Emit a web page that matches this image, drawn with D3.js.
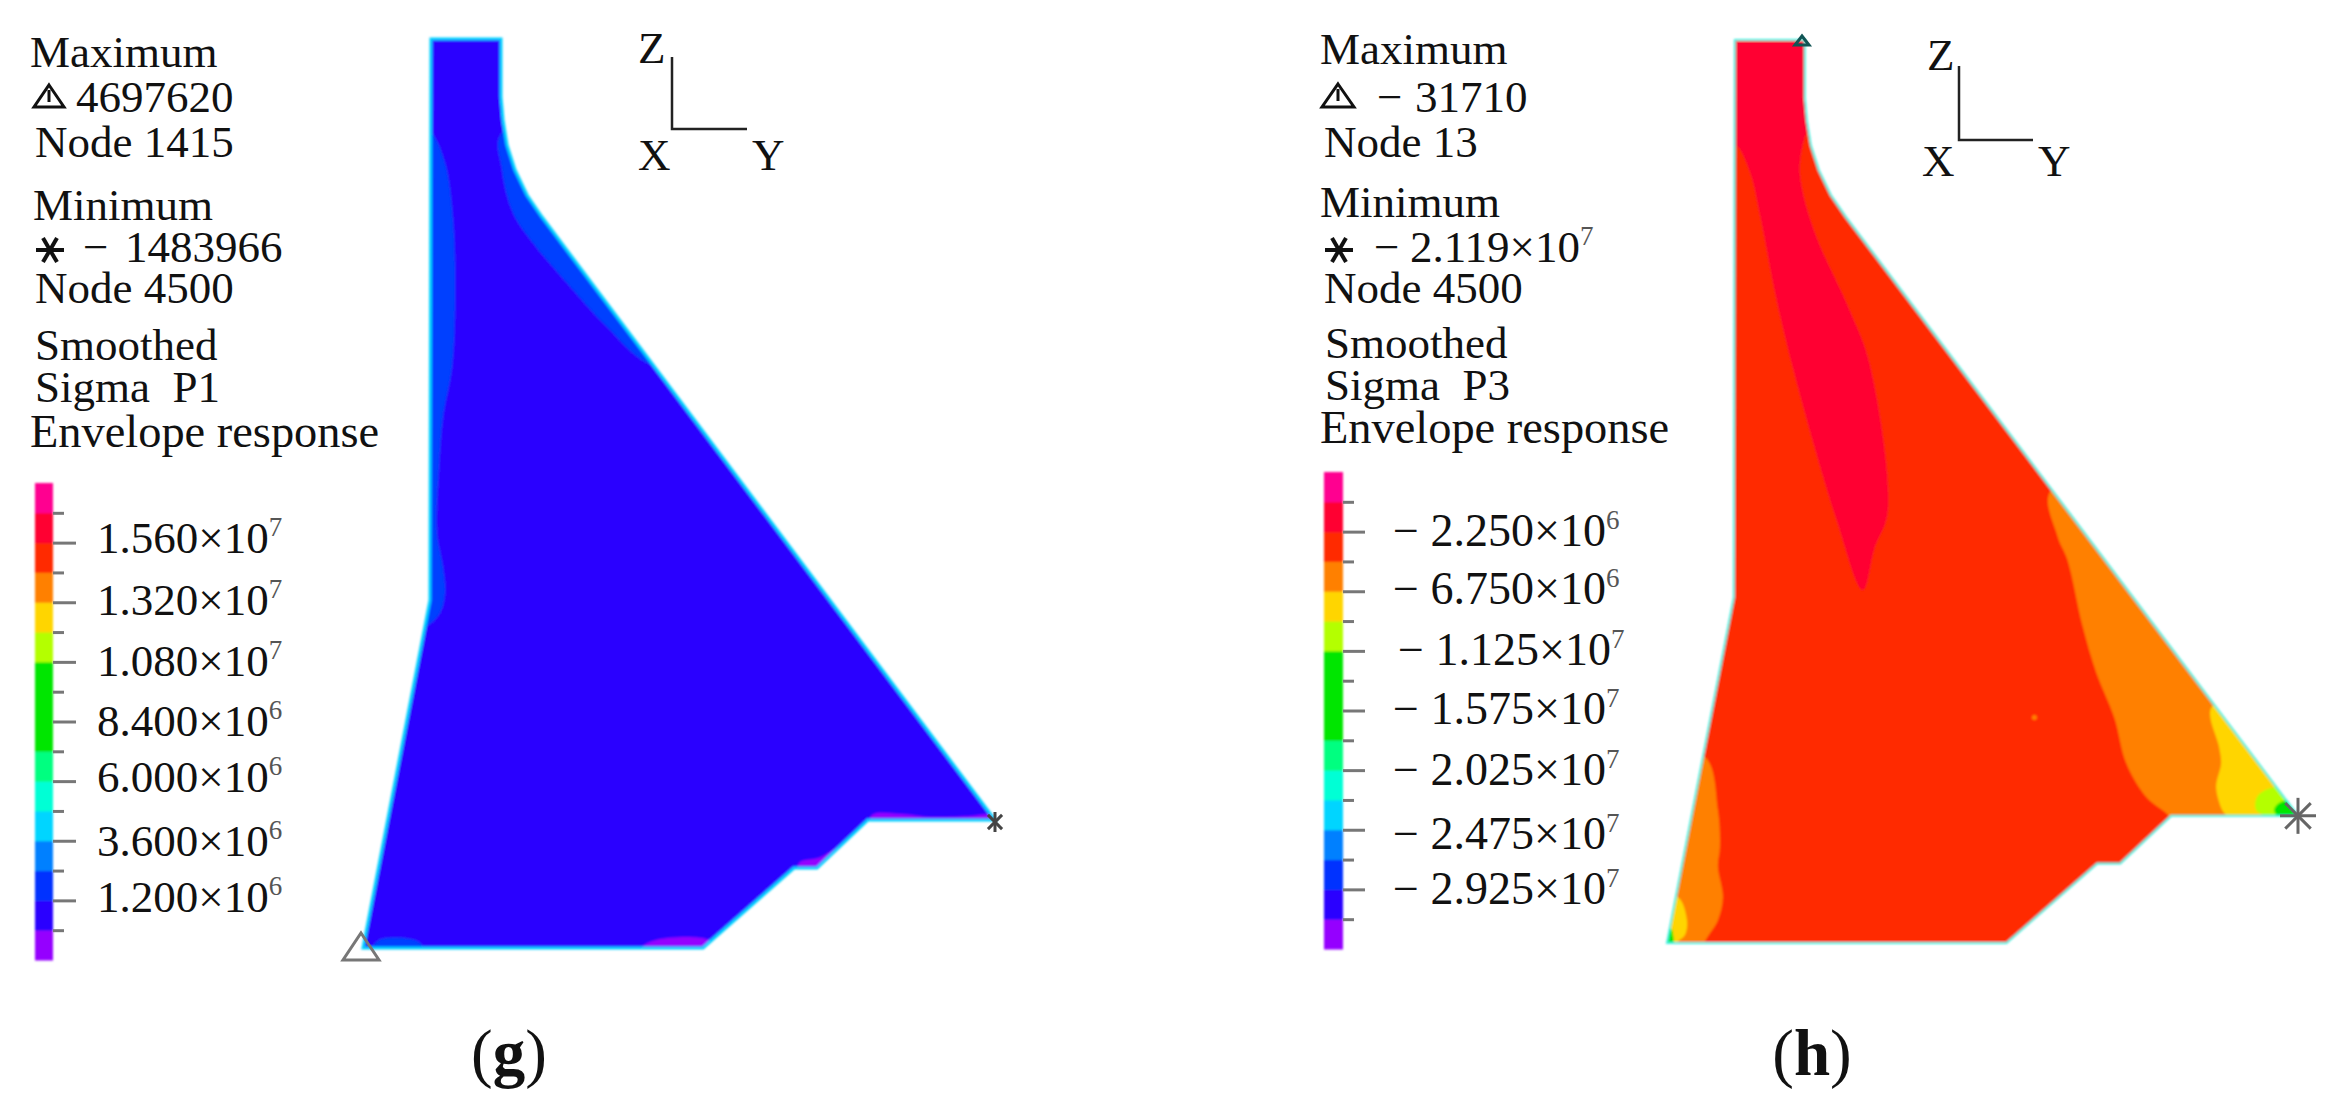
<!DOCTYPE html>
<html>
<head>
<meta charset="utf-8">
<title>Dam stress envelope</title>
<script src="https://cdnjs.cloudflare.com/ajax/libs/d3/7.8.5/d3.min.js"></script>
<style>
  body { margin: 0; background: #fff; }
  text { font-family: "Liberation Serif", serif; fill: #111; }
</style>
</head>
<body>
<div id="chart"></div>
<script>
const width = 2352;
const height = 1113;

// dam section, [y, z] in model units, z measured up from the foundation
const damOutline = [[0, 909], [70, 909], [70, 851], [72, 828], [76, 803], [84, 778], [96, 753], [111, 731],
  [564, 128], [437, 128], [386, 80], [363, 80], [272, 0], [-68, 0], [-1, 348]];

// contour bands of panel (g), Sigma P1
const p1Base = '#2b00ff';
const p1Upstream = [[0, 815], [14, 785], [22, 728], [24, 648], [21, 581], [12, 531], [8, 481], [6, 415],
  [12, 381], [14, 355], [9, 335], [-3, 323], [-10, 323], [-10, 815]];
const p1Downstream = [[71, 815], [71, 778], [82, 735], [102, 705], [136, 665], [176, 621], [221, 583],
  [300, 583], [300, 815]];
const p1HeelBlue = [[-52, 8], [-12, 6], [-8, -5], [-60, -5]];
const p1ToePurple = [[439, 120], [441, 133], [470, 134], [500, 131], [540, 132], [560, 133], [575, 120]];
const p1StepPurple = [[368, 85], [390, 91], [421, 113], [435, 125], [440, 120], [390, 60], [368, 60]];
const p1BasePurple = [[209, 0], [225, 8], [278, 8], [290, -5], [205, -5]];

// contour bands of panel (h), Sigma P3
const p3Base = '#ff2a00';
const p3Crest = [[-5, 919], [80, 919], [80, 823], [73, 818], [65, 783], [68, 756], [82, 710], [115, 637],
  [135, 583], [153, 433], [140, 398], [128, 355], [102, 425], [68, 541], [43, 641], [25, 733], [15, 776],
  [2, 802], [-5, 802]];
const p3ToeOrange = [[317, 456], [323, 410], [333, 386], [348, 320], [362, 272], [380, 227], [392, 181],
  [412, 147], [435, 127], [435, 120], [580, 120], [580, 456]];
const p3ToeYellow = [[478, 238], [485, 197], [487, 181], [482, 157], [488, 134], [493, 127], [493, 120],
  [580, 120], [580, 238]];
const p3ToeLime = [[537, 156], [523, 147], [522, 134], [532, 127], [532, 120], [580, 120], [580, 156]];
const p3ToeGreen = [[547, 142], [540, 134], [543, 127], [543, 120], [580, 120], [580, 142]];
const p3HeelOrange = [[-30, 187], [-17, 134], [-15, 97], [-17, 77], [-12, 46], [-17, 23], [-30, 1], [-30, -5],
  [-80, -5], [-80, 187]];
const p3HeelYellow = [[-57, 46], [-48, 23], [-50, 8], [-57, 1], [-57, -5], [-80, -5], [-80, 46]];
const p3HeelGreen = [[-65, 16], [-61, 1], [-61, -5], [-80, -5], [-80, 16]];

// legend, colours listed from the lowest band to the highest
const bandColors = ['#9500ff', '#2b00ff', '#0030ff', '#0080ff', '#00d5ff', '#00ffd5', '#00ff80', '#00e600',
  '#00e600', '#00e600', '#b4ff00', '#ffd500', '#ff8000', '#ff2a00', '#ff0030', '#ff0090'];
const p1Bands = [-1.2e6, 1.8e7];
const p1LongTicks = [1.56e7, 1.32e7, 1.08e7, 8.4e6, 6e6, 3.6e6, 1.2e6];
const p1ShortTicks = [1.68e7, 1.44e7, 1.2e7, 9.6e6, 7.2e6, 4.8e6, 2.4e6, 0];
const p1TickLabels = ['1.560', '1.320', '1.080', '8.400', '6.000', '3.600', '1.200'];
const p1TickPowers = ['7', '7', '7', '6', '6', '6', '6'];
const p3Bands = [-3.375e7, 2.25e6];
const p3LongTicks = [-2.25e6, -6.75e6, -1.125e7, -1.575e7, -2.025e7, -2.475e7, -2.925e7];
const p3ShortTicks = [0, -4.5e6, -9e6, -1.35e7, -1.8e7, -2.25e7, -2.7e7, -3.15e7];
const p3TickLabels = ['\u2212 2.250', '\u2212 6.750', '\u2212 1.125', '\u2212 1.575', '\u2212 2.025', '\u2212 2.475', '\u2212 2.925'];
const p3TickPowers = ['6', '6', '7', '7', '7', '7', '7'];

const svg = d3.select('#chart')
  .append('svg')
  .attr('width', width)
  .attr('height', height)
  .attr('viewBox', [0, 0, width, height]);

const defs = svg.append('defs');
defs.append('filter').attr('id', 'soft')
  .append('feGaussianBlur').attr('stdDeviation', 0.8);

function label(g, x, y, str, size) {
  return g.append('text').attr('x', x).attr('y', y).attr('font-size', size || 45).text(str);
}

function triangle(g, cx, top, base, half, color, sw) {
  g.append('path')
    .attr('d', d3.line()([[cx, top], [cx + half, base], [cx - half, base]]) + 'Z')
    .attr('fill', 'none').attr('stroke', color).attr('stroke-width', sw);
}

function star(g, cx, cy, r, angles, color, sw) {
  angles.forEach(function(a) {
    const dx = Math.cos(a * Math.PI / 180) * r;
    const dy = Math.sin(a * Math.PI / 180) * r;
    g.append('line')
      .attr('x1', cx - dx).attr('y1', cy - dy)
      .attr('x2', cx + dx).attr('y2', cy + dy)
      .attr('stroke', color).attr('stroke-width', sw);
  });
}

function drawDam(id, xRange, zRange, baseColor, edge, edgeWidth, bands) {
  const x = d3.scaleLinear().domain([-68, 564]).range(xRange);
  const z = d3.scaleLinear().domain([0, 909]).range(zRange);
  const line = d3.line().x(d => x(d[0])).y(d => z(d[1])).curve(d3.curveLinearClosed);
  const contour = d3.line().x(d => x(d[0])).y(d => z(d[1])).curve(d3.curveCatmullRomClosed.alpha(0.5));

  defs.append('clipPath').attr('id', 'clip-' + id)
    .append('path').attr('d', line(damOutline));

  const g = svg.append('g').attr('filter', 'url(#soft)');
  g.append('path').attr('d', line(damOutline)).attr('fill', baseColor);
  const inner = g.append('g').attr('clip-path', 'url(#clip-' + id + ')');
  inner.selectAll('path')
    .data(bands)
    .join('path')
    .attr('d', d => contour(d.points))
    .attr('fill', d => d.color);
  g.append('path').attr('d', line(damOutline))
    .attr('fill', 'none').attr('stroke', edge).attr('stroke-width', edgeWidth);
  return { x: x, z: z, g: g };
}

function drawLegend(barX, barW, top, bottom, domain, longTicks, shortTicks, names, powers, textX, nudge, dy, longLen, shortLen, size) {
  const s = d3.scaleLinear().domain(domain).range([bottom, top]);
  const step = (domain[1] - domain[0]) / bandColors.length;
  const g = svg.append('g').attr('filter', 'url(#soft)');
  g.selectAll('rect')
    .data(bandColors)
    .join('rect')
    .attr('x', barX)
    .attr('width', barW)
    .attr('y', (d, i) => s(domain[0] + (i + 1) * step))
    .attr('height', (d, i) => s(domain[0] + i * step) - s(domain[0] + (i + 1) * step) + 0.5)
    .attr('fill', d => d);

  [[longTicks, longLen], [shortTicks, shortLen]].forEach(function(t) {
    const axis = d3.axisRight(s).tickValues(t[0]).tickSize(t[1]).tickFormat('');
    const a = svg.append('g').attr('transform', 'translate(' + (barX + barW) + ',0)').call(axis);
    a.select('.domain').remove();
    a.selectAll('line').attr('stroke', '#777').attr('stroke-width', 3);
  });

  longTicks.forEach(function(v, i) {
    const t = label(svg, textX + (names[i].indexOf('1.125') >= 0 ? 5 : 0), s(v) + dy + nudge[i], names[i] + '\u00d710', size);
    t.append('tspan').attr('dy', -17).attr('font-size', 27).attr('fill', '#555').text(powers[i]);
  });
}

// panel (g)
const damG = drawDam('g', [363, 995], [948, 39], p1Base, '#00d0ff', 3, [
  { points: p1Upstream, color: '#0040ff' },
  { points: p1Downstream, color: '#0040ff' },
  { points: p1HeelBlue, color: '#0040ff' },
  { points: p1ToePurple, color: '#9500ff' },
  { points: p1StepPurple, color: '#9500ff' },
  { points: p1BasePurple, color: '#9500ff' }
]);
triangle(svg, 361, 933, 960, 18, '#777', 3);
star(svg, damG.x(564), damG.z(128) + 2, 10, [45, 135, 90], '#444', 3);
drawLegend(35, 18, 483, 960, p1Bands, p1LongTicks, p1ShortTicks, p1TickLabels, p1TickPowers, 97,
  [-3, 0, 1, 1, -2, 2, -1], 13, 23, 11, 45);

label(svg, 30, 67, 'Maximum');
triangle(svg, 49, 85, 107, 15, '#111', 3);
star(svg, 49, 96, 6, [90], '#111', 3);
label(svg, 76, 112, '4697620');
label(svg, 35, 157, 'Node 1415');
label(svg, 33, 220, 'Minimum');
star(svg, 50, 250, 14, [0, 60, 120], '#111', 4);
label(svg, 83, 262, '\u2212');
label(svg, 125, 262, '1483966');
label(svg, 35, 303, 'Node 4500');
label(svg, 35, 360, 'Smoothed');
label(svg, 35, 402, 'Sigma  P1').attr('xml:space', 'preserve');
label(svg, 30, 447, 'Envelope response', 46.4);

// panel (h)
const damH = drawDam('h', [1667, 2298], [943, 40], p3Base, '#40f0e0', 2, [
  { points: p3Crest, color: '#ff0030' },
  { points: p3ToeOrange, color: '#ff8000' },
  { points: p3ToeYellow, color: '#ffd500' },
  { points: p3ToeLime, color: '#b4ff00' },
  { points: p3ToeGreen, color: '#00e600' },
  { points: p3HeelOrange, color: '#ff8000' },
  { points: p3HeelYellow, color: '#ffd500' },
  { points: p3HeelGreen, color: '#00e600' }
]);
damH.g.append('circle').attr('cx', damH.x(300)).attr('cy', damH.z(227)).attr('r', 2.5).attr('fill', '#ff8000');
triangle(svg, 1802, 36, 45, 7, '#155', 3);
star(svg, damH.x(564), damH.z(128), 18, [0, 45, 90, 135], '#666', 3);
drawLegend(1324, 19, 472, 949, p3Bands, p3LongTicks, p3ShortTicks, p3TickLabels, p3TickPowers, 1393,
  [0, -1, 0, -1, 1, 5, 1], 14, 22, 11, 46);

label(svg, 1320, 64, 'Maximum');
triangle(svg, 1338, 84, 107, 16, '#111', 3);
star(svg, 1338, 95, 6, [90], '#111', 3);
label(svg, 1377, 112, '\u2212');
label(svg, 1415, 112, '31710');
label(svg, 1324, 157, 'Node 13');
label(svg, 1320, 217, 'Minimum');
star(svg, 1339, 250, 14, [0, 60, 120], '#111', 4);
label(svg, 1374, 262, '\u2212');
const minH = label(svg, 1410, 262, '2.119\u00d710');
minH.append('tspan').attr('dy', -17).attr('font-size', 27).attr('fill', '#555').text('7');
label(svg, 1324, 303, 'Node 4500');
label(svg, 1325, 358, 'Smoothed');
label(svg, 1325, 400, 'Sigma  P3').attr('xml:space', 'preserve');
label(svg, 1320, 443, 'Envelope response', 46.4);

// coordinate triads
function triad(ox, oy, top, right, zx, zy, xx, xy, yx, yy) {
  svg.append('path')
    .attr('d', d3.line()([[ox, top], [ox, oy], [right, oy]]))
    .attr('fill', 'none').attr('stroke', '#222').attr('stroke-width', 2.5);
  label(svg, zx, zy, 'Z');
  label(svg, xx, xy, 'X');
  label(svg, yx, yy, 'Y');
}
triad(672, 129, 57, 747, 638, 63, 638, 170, 752, 170);
triad(1959, 140, 66, 2033, 1927, 70, 1922, 176, 2038, 176);

// captions
function caption(cx, letter) {
  const t = svg.append('text').attr('x', cx).attr('y', 1075).attr('font-size', 65).attr('text-anchor', 'middle');
  t.append('tspan').text('(');
  t.append('tspan').attr('font-weight', 'bold').text(letter);
  t.append('tspan').text(')');
}
caption(509, 'g');
caption(1812, 'h');
</script>
</body>
</html>
